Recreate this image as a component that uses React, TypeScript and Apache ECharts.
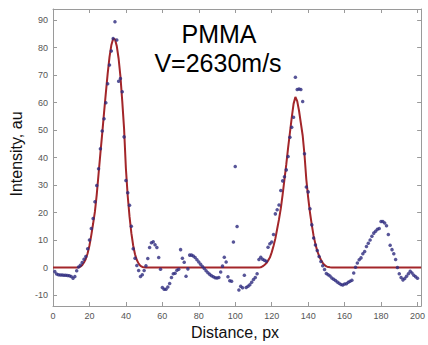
import React, { useEffect, useRef } from "react";
import * as echarts from "echarts";

// Measured intensity, one sample per pixel of distance (x = 1 .. 200)
const measured: number[] = [
  -1.5, -2.4, -2.6, -2.7, -2.7, -2.8, -2.8, -2.9, -3.0, -3.3,
  -3.9, -3.3, -1.2, 0.2, 0.8, 1.8, 3.0, 4.0, 6.8, 10.0,
  14.2, 17.8, 23.9, 29.8, 35.9, 43.2, 49.6, 54.1, 59.9, 66.8,
  73.6, 78.7, 83.3, 89.4, 82.7, 67.7, 68.7, 63.9, 47.5, 31.6,
  27.2, 22.6, 15.0, 6.8, 3.4, 0.7, -1.1, -3.3, -2.6, -1.1,
  0.6, 3.3, 7.3, 9.0, 9.4, 8.3, 7.3, 3.6, -0.6, -7.3,
  -7.9, -7.9, -7.1, -5.8, -3.6, -2.3, -2.1, -1.0, -0.6, 6.5,
  3.4, 1.9, -3.2, -0.5, 4.5, 4.5, 4.2, 3.6, 2.8, 2.0,
  1.2, 0.4, -0.4, -1.2, -1.9, -2.5, -3.0, -3.4, -3.7, -3.8,
  -3.6, -1.6, 0.5, 3.7, 2.0, -3.4, -4.8, -5.0, 9.3, 36.7,
  14.9, -8.2, -6.8, -7.4, -2.8, -7.3, -6.8, -6.3, -5.4, -4.4,
  -3.6, -2.3, 2.9, 3.7, 3.0, 2.6, 2.3, 7.4, 8.6, 9.3,
  12.0, 19.5, 21.0, 22.7, 28.0, 31.5, 33.0, 35.5, 40.4, 47.4,
  51.0, 54.6, 69.2, 64.7, 64.9, 64.7, 60.4, 41.4, 29.3, 27.5,
  21.4, 15.5, 10.7, 8.2, 6.2, 4.0, 2.2, 0.6, -0.7, -2.2,
  -2.6, -3.1, -3.8, -4.3, -4.7, -5.3, -5.7, -6.2, -6.4, -6.0,
  -5.9, -5.4, -5.0, -4.6, -2.0, 0.1, 1.6, 2.8, 3.5, 5.0,
  5.8, 7.6, 8.8, 10.0, 11.4, 12.5, 13.2, 13.9, 14.2, 16.7,
  16.7, 16.2, 15.2, 12.0, 8.1, 6.5, 5.0, 2.9, 0.0, -2.3,
  -3.6, -4.5, -4.0, -3.2, -2.3, -1.4, -2.0, -2.8, -3.4, -3.9,
];

// Fitted curve (red), read point by point
const fitX: number[] = [
  0, 13, 14, 15, 16, 17, 18, 19, 20, 21, 22, 23, 24, 25, 26, 27, 28, 29, 30, 31, 32,
  33, 34, 35, 36, 37, 38, 39, 40, 41, 42, 43, 44, 45, 46, 47, 48, 49, 50, 51,
  113, 114, 115, 116, 117, 118, 119, 120, 121, 122, 123, 124, 125, 126, 127, 128, 129,
  130, 131, 132, 133, 134, 135, 136, 137, 138, 139, 140, 141, 142, 143, 144, 145, 146,
  147, 148, 149, 150, 151, 152, 153, 202,
];
const fitY: number[] = [
  0, 0, 0.1, 0.3, 0.8, 1.8, 3.1, 5.2, 8.0, 11.7, 15.9, 20.3, 26.5, 34.0, 41.5, 48.7, 56.2, 63.5, 70.5, 76.5, 80.8,
  83.2, 83.0, 80.5, 76.0, 69.5, 60.5, 50.5, 36.0, 26.0, 18.5, 12.5, 8.0, 4.8, 2.7, 1.4, 0.6, 0.2, 0.05, 0,
  0, 0.1, 0.4, 0.9, 1.5, 2.5, 3.6, 5.5, 7.8, 10.5, 14.0, 17.5, 21.5, 26.5, 32.0, 37.5, 43.5,
  49.0, 54.5, 59.5, 62.0, 60.5, 57.0, 52.5, 48.0, 41.0, 32.0, 25.5, 20.0, 15.5, 11.5, 8.5, 6.0, 4.2,
  2.8, 1.7, 0.9, 0.4, 0.15, 0.05, 0, 0,
];

const xTicks: number[] = [0, 20, 40, 60, 80, 100, 120, 140, 160, 180, 200];
const yTicks: number[] = [-10, 0, 10, 20, 30, 40, 50, 60, 70, 80, 90];

const titleLines: string[] = ["PMMA", "V=2630m/s"];
const xName = "Distance, px";
const yName = "Intensity, au";

const FONT = "'Liberation Sans', Arial, Helvetica, sans-serif";

export default function App() {
  const ref = useRef<HTMLDivElement>(null);

  useEffect(() => {
    if (!ref.current) return;
    const chart = echarts.init(ref.current, undefined, { renderer: "svg" });

    const axisLine = { show: true, onZero: false, lineStyle: { color: "#9a9a9a", width: 1 } };

    const option: any = {
      animation: false,
      backgroundColor: "#ffffff",
      grid: { left: 53, right: 1, top: 9, bottom: 39, containLabel: false },
      xAxis: [
        {
          type: "value",
          min: 0,
          max: 202,
          position: "bottom",
          axisLine,
          axisTick: { show: true, inside: true, length: 4, customValues: xTicks, lineStyle: { color: "#9a9a9a" } },
          axisLabel: { show: true, customValues: xTicks, fontSize: 9, color: "#555", margin: 5, fontFamily: FONT },
          splitLine: { show: false },
        },
        {
          type: "value",
          min: 0,
          max: 202,
          position: "top",
          axisLine,
          axisTick: { show: true, inside: true, length: 4, customValues: xTicks, lineStyle: { color: "#9a9a9a" } },
          axisLabel: { show: false },
          splitLine: { show: false },
        },
      ],
      yAxis: [
        {
          type: "value",
          min: -14,
          max: 94,
          position: "left",
          axisLine,
          axisTick: { show: true, inside: true, length: 4, customValues: yTicks, lineStyle: { color: "#9a9a9a" } },
          axisLabel: { show: true, customValues: yTicks, fontSize: 9, color: "#555", margin: 5, fontFamily: FONT },
          splitLine: { show: false },
        },
        {
          type: "value",
          min: -14,
          max: 94,
          position: "right",
          axisLine,
          axisTick: { show: true, inside: true, length: 4, customValues: yTicks, lineStyle: { color: "#9a9a9a" } },
          axisLabel: { show: false },
          splitLine: { show: false },
        },
      ],
      series: [
        {
          type: "line",
          name: "fit",
          xAxisIndex: 0,
          yAxisIndex: 0,
          data: fitX.map((x, i) => [x, fitY[i]]),
          showSymbol: false,
          smooth: false,
          lineStyle: { color: "#a3262a", width: 2 },
          z: 2,
        },
        {
          type: "scatter",
          name: "measured",
          xAxisIndex: 0,
          yAxisIndex: 0,
          data: measured.map((v, i) => [i + 1, v]),
          symbolSize: 3.5,
          itemStyle: { color: "#2d2a7e" },
          z: 3,
        },
      ],
      graphic: [
        {
          type: "text",
          x: 219,
          y: 34,
          style: { text: titleLines[0], fill: "#000", font: `25px ${FONT}`, textAlign: "center", textVerticalAlign: "middle" },
        },
        {
          type: "text",
          x: 218,
          y: 63,
          style: { text: titleLines[1], fill: "#000", font: `25px ${FONT}`, textAlign: "center", textVerticalAlign: "middle" },
        },
        {
          type: "text",
          x: 235,
          y: 332,
          style: { text: xName, fill: "#111", font: `16px ${FONT}`, textAlign: "center", textVerticalAlign: "middle" },
        },
        {
          type: "text",
          x: 16,
          y: 154,
          rotation: Math.PI / 2,
          style: { text: yName, fill: "#111", font: `16px ${FONT}`, textAlign: "center", textVerticalAlign: "middle" },
        },
      ],
    };

    chart.setOption(option);
    return () => chart.dispose();
  }, []);

  return (
    <div
      ref={ref}
      style={{ position: "fixed", left: 0, top: 0, width: 428, height: 345, background: "#fff" }}
    />
  );
}
